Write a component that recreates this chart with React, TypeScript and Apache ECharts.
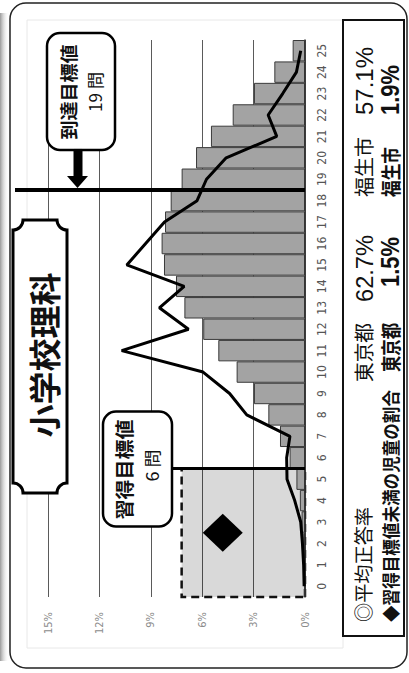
import React, { useEffect, useRef } from 'react';
import * as echarts from 'echarts';

// ---- data ----
const categories = ['0', '1', '2', '3', '4', '5', '6', '7', '8', '9', '10', '11', '12', '13', '14', '15', '16', '17', '18', '19', '20', '21', '22', '23', '24', '25'];
const valueTicks = [0, 3, 6, 9, 12, 15];
// 東京都: share of pupils by number of correct answers (%)
const tokyoShare = [0.03, 0.05, 0.1, 0.2, 0.3, 0.5, 0.9, 1.46, 2.14, 2.98, 3.99, 5.06, 5.94, 7.04, 7.53, 8.23, 8.37, 8.17, 7.84, 7.2, 6.36, 5.49, 4.22, 2.98, 1.79, 0.72];
// 福生市
const fussaShare = [0.05, 0.08, 0.15, 0.25, 0.6, 1.05, 1.07, 0.88, 3.4, 4.4, 5.95, 10.7, 6.8, 8.5, 7.05, 10.4, 9.3, 8.2, 6.3, 5.75, 4.6, 1.65, 2.15, 1.3, 0.5, 0.25];
const masteryGoal = 6; // 習得目標値 6問
const reachGoal = 19; // 到達目標値 19問
const masteryZoneTop = 7.2; // top of the dashed zone (%)
const markerPoint = [2.5, 4.8];
const title = '小学校理科';
const avgLabel = '◎平均正答率';
const belowLabel = '◆習得目標値未満の児童の割合';
const regions = ['東京都', '福生市'];
const avgValues = ['62.7%', '57.1%'];
const belowValues = ['1.5%', '1.9%'];

const CJK = "'Noto Sans CJK JP', 'Noto Sans', sans-serif";
const LATIN = "'Liberation Sans', Arial, sans-serif";
const NARROW = "'Liberation Sans Narrow', 'DejaVu Sans Condensed', 'Liberation Sans', sans-serif";

const d =
  'M10,0 L263,0 A10,10 0 0 0 273,10 L273,44 A10,10 0 0 0 263,54 L10,54 A10,10 0 0 0 0,44 L0,10 A10,10 0 0 0 10,0 Z';
echarts.graphic.registerShape('titleScroll', echarts.graphic.extendPath(d, {}));

let measureCtx: CanvasRenderingContext2D | null = null;
function fit(text: string, size: number, weight: string, family: string, target: number) {
  if (!measureCtx) measureCtx = document.createElement('canvas').getContext('2d');
  if (!measureCtx) return 1;
  measureCtx.font = `${weight} ${size}px ${family}`;
  const w = measureCtx.measureText(text).width;
  return w > 0 ? target / w : 1;
}

function txt(
  text: string,
  x: number,
  y: number,
  size: number,
  weight: string,
  target: number,
  align = 'left',
  family = CJK
) {
  return {
    type: 'text',
    x,
    y,
    scaleX: fit(text, size, weight, family, target),
    z: 110,
    style: {
      text,
      fontSize: size,
      fontWeight: weight,
      fontFamily: family,
      fill: '#111',
      textAlign: align,
      textVerticalAlign: 'middle',
    },
  };
}

export default function App() {
  const ref = useRef<HTMLDivElement>(null);
  useEffect(() => {
    if (!ref.current) return;
    const chart = echarts.init(ref.current, undefined, { renderer: 'svg' });
    chart.setOption({
      animation: false,
      backgroundColor: '#fff',
      textStyle: { fontFamily: CJK },
      grid: { left: 76, right: 40, top: 48, bottom: 104 },
      xAxis: [
        {
          type: 'category',
          data: categories,
          axisLine: { lineStyle: { color: '#333', width: 1.5 } },
          axisTick: { show: false },
          axisLabel: { interval: 0, color: '#555', fontSize: 12, margin: 11, fontFamily: NARROW },
          splitLine: { show: false },
          z: 3,
        },
        { type: 'value', min: -0.5, max: 25.5, show: false },
      ],
      yAxis: {
        type: 'value',
        min: valueTicks[0],
        max: valueTicks[valueTicks.length - 1],
        interval: valueTicks[1] - valueTicks[0],
        axisLabel: { formatter: '{value}%', color: '#8c8c8c', fontSize: 11, margin: 15, fontFamily: NARROW },
        axisLine: { show: false },
        axisTick: { show: false },
        splitLine: { lineStyle: { color: '#5a5a5a', width: 1 } },
      },
      series: [
        {
          type: 'bar',
          name: regions[0],
          data: tokyoShare,
          barCategoryGap: '0%',
          itemStyle: { color: '#a3a3a3', borderColor: '#3a3a3a', borderWidth: 1 },
          z: 2,
        },
        {
          type: 'line',
          name: regions[1],
          data: fussaShare,
          symbol: 'none',
          lineStyle: { color: '#000', width: 3 },
          z: 4,
        },
        {
          type: 'scatter',
          xAxisIndex: 1,
          data: [markerPoint],
          symbol: 'diamond',
          symbolSize: [38, 40],
          itemStyle: { color: '#000', opacity: 1 },
          z: 5,
          markArea: {
            silent: true,
            z: 1,
            itemStyle: { color: 'rgba(0,0,0,0.15)', borderColor: '#111', borderWidth: 2.5, borderType: [8, 5] },
            data: [[{ xAxis: -0.5, yAxis: 0 }, { xAxis: masteryGoal - 0.5, yAxis: masteryZoneTop }]],
          },
        },
      ],
    });

    const px = (v: number) => chart.convertToPixel({ xAxisIndex: 1 }, v) as unknown as number;
    const py = (v: number) => chart.convertToPixel({ yAxisIndex: 0 }, v) as unknown as number;
    const uM = px(masteryGoal - 0.5);
    const uR = px(reachGoal - 0.5);
    const v0 = py(0);

    const graphic: any[] = [
      // shadow strip
      {
        type: 'rect',
        z: 90,
        shape: { x: 12, y: 0, width: 648, height: 9 },
        style: {
          fill: new echarts.graphic.LinearGradient(0, 0, 0, 1, [
            { offset: 0, color: '#9a9a9a' },
            { offset: 1, color: 'rgba(255,255,255,0)' },
          ]),
        },
      },
      // outer frame
      {
        type: 'rect',
        z: 90,
        shape: { x: 5, y: 10, width: 665, height: 397, r: 16 },
        style: { fill: 'none', stroke: '#222', lineWidth: 1.5 },
      },
      // faint inner frame
      {
        type: 'rect',
        z: 1,
        shape: { x: 25, y: 27, width: 628, height: 316 },
        style: { fill: 'none', stroke: '#e8e8e8', lineWidth: 1 },
      },
      // legend box
      {
        type: 'rect',
        z: 100,
        shape: { x: 37, y: 343, width: 616, height: 61 },
        style: { fill: '#fff', stroke: '#111', lineWidth: 2 },
      },
      txt(avgLabel, 51, 363, 19, 'normal', 115),
      txt(regions[0], 291, 363, 20, 'normal', 59),
      txt(avgValues[0], 371, 364, 24, 'normal', 67, 'left', LATIN),
      txt(regions[1], 476, 363, 20, 'normal', 60),
      txt(avgValues[1], 558, 364, 24, 'normal', 68, 'left', LATIN),
      txt(belowLabel, 51, 390, 18, 'bold', 232),
      txt(regions[0], 301, 390, 20, 'bold', 49),
      txt(belowValues[0], 386, 390, 25, 'bold', 50, 'left', LATIN),
      txt(regions[1], 476, 390, 20, 'bold', 50),
      txt(belowValues[1], 558, 390, 25, 'bold', 50, 'left', LATIN),
      // title
      {
        type: 'titleScroll',
        x: 180,
        y: 13,
        z: 100,
        style: { fill: '#fff', stroke: '#000', lineWidth: 3 },
      },
      txt(title, 318, 43, 32, 'bold', 165, 'center'),
      // mastery goal line + callout
      {
        type: 'line',
        z: 95,
        shape: { x1: uM, y1: 172, x2: uM, y2: v0 },
        style: { stroke: '#000', lineWidth: 3 },
      },
      {
        type: 'rect',
        z: 100,
        shape: { x: uM - 58, y: 103, width: 115, height: 69, r: 13 },
        style: { fill: '#fff', stroke: '#000', lineWidth: 2.5 },
      },
      txt('習得目標値', uM - 1, 123.5, 19, 'bold', 100, 'center'),
      txt(`${masteryGoal} 問`, uM + 3, 151.5, 17, 'normal', 32, 'center'),
      // reach goal line + callout + arrow
      {
        type: 'line',
        z: 95,
        shape: { x1: uR, y1: 15, x2: uR, y2: v0 },
        style: { stroke: '#000', lineWidth: 4 },
      },
      {
        type: 'rect',
        z: 100,
        shape: { x: uR + 40, y: 47, width: 117, height: 68, r: 13 },
        style: { fill: '#fff', stroke: '#000', lineWidth: 2.5 },
      },
      {
        type: 'rect',
        z: 100,
        shape: { x: uR + 13, y: 73.5, width: 28, height: 9 },
        style: { fill: '#000' },
      },
      {
        type: 'polygon',
        z: 100,
        shape: { points: [[uR + 14, 67], [uR + 14, 88], [uR + 2, 77.5]] },
        style: { fill: '#000' },
      },
      txt('到達目標値', uR + 98, 68, 18, 'bold', 95, 'center'),
      txt(`${reachGoal} 問`, uR + 98, 95, 17, 'normal', 40, 'center'),
    ];
    chart.setOption({ graphic });
    return () => chart.dispose();
  }, []);
  return (
    <div style={{ position: 'absolute', left: 0, top: 0, width: 409, height: 673, overflow: 'hidden', background: '#fff' }}>
      <div
        ref={ref}
        style={{
          position: 'absolute',
          left: 0,
          top: 0,
          width: 673,
          height: 409,
          transformOrigin: '0 0',
          transform: 'translateY(673px) rotate(-90deg)',
        }}
      />
    </div>
  );
}
